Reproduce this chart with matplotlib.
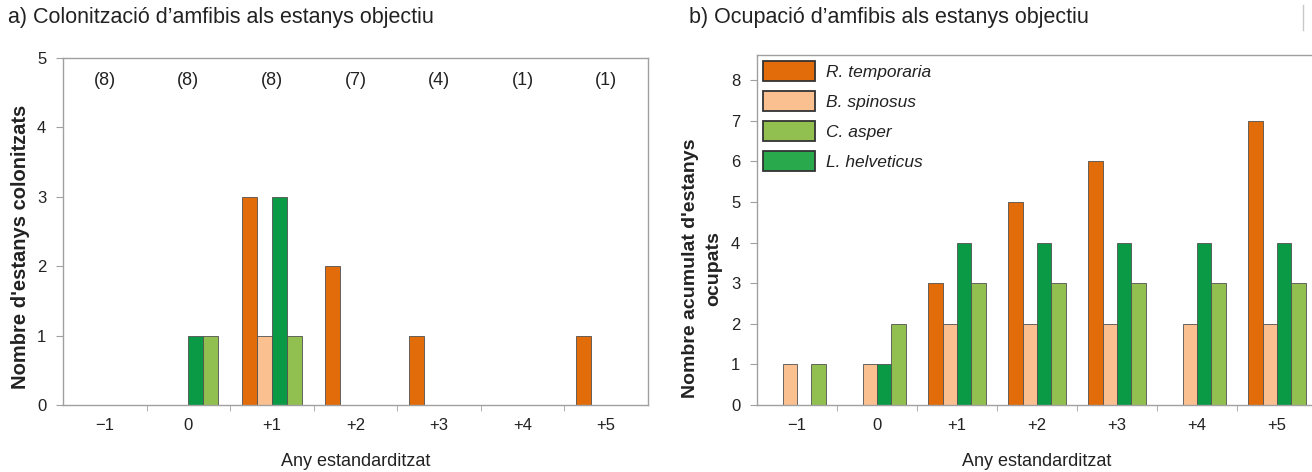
import numpy as np
import matplotlib
matplotlib.use("Agg")
import matplotlib.pyplot as plt
from matplotlib.lines import Line2D

plt.rcParams['font.family'] = ['Liberation Sans', 'DejaVu Sans']

years = ["\u22121", "0", "+1", "+2", "+3", "+4", "+5"]
n_ponds = ["(8)", "(8)", "(8)", "(7)", "(4)", "(1)", "(1)"]

species = ["R. temporaria", "B. spinosus", "L. helveticus", "C. asper"]
colors = ["#E36C0A", "#FAC090", "#0A9A46", "#92C050"]
legend_order = ["R. temporaria", "B. spinosus", "C. asper", "L. helveticus"]

# a) colonisation
col_rtemp = [0, 0, 3, 2, 1, 0, 1]
col_bspin = [0, 0, 1, 0, 0, 0, 0]
col_lhelv = [0, 1, 3, 0, 0, 0, 0]
col_casp = [0, 1, 1, 0, 0, 0, 0]

# b) cumulative occupation
occ_rtemp = [0, 0, 3, 5, 6, 0, 7]
occ_bspin = [1, 1, 2, 2, 2, 2, 2]
occ_lhelv = [0, 1, 4, 4, 4, 4, 4]
occ_casp = [1, 2, 3, 3, 3, 3, 3]

W, H = 1312, 472
fig = plt.figure(figsize=(W / 100, H / 100), dpi=100)

def ax_rect(x0, x1, ytop, ybot):
    return [x0 / W, 1 - ybot / H, (x1 - x0) / W, (ybot - ytop) / H]

axA = fig.add_axes(ax_rect(63, 648, 58, 405))
axB = fig.add_axes(ax_rect(757, 1317, 55, 405))

bw = 0.18
offsets = np.array([-1.5, -0.5, 0.5, 1.5]) * bw
x = np.arange(len(years))

spine_col = "#A0A0A0"
edge_col = "#505050"
txt_col = "#222222"

def style(ax, ymax, yticks):
    ax.set_xlim(-0.5, len(years) - 0.5)
    ax.set_ylim(0, ymax)
    ax.set_yticks(yticks)
    ax.set_xticks(x)
    ax.set_xticklabels(years, fontsize=12, color=txt_col)
    ax.tick_params(axis='x', which='major', length=0, pad=9)
    ax.set_xticks(np.arange(0.5, len(years) - 0.5, 1), minor=True)
    ax.tick_params(axis='x', which='minor', length=4, color=spine_col, direction='out')
    ax.tick_params(axis='y', length=5, color=spine_col, labelsize=12, labelcolor=txt_col, pad=7)
    for s in ax.spines.values():
        s.set_color(spine_col)
        s.set_linewidth(1.0)
    ax.set_xlabel("Any estandarditzat", fontsize=13, color=txt_col, labelpad=15)

def draw(ax, series):
    hs = {}
    for i, (name, vals) in enumerate(zip(species, series)):
        b = ax.bar(x + offsets[i], vals, width=bw, color=colors[i],
                   edgecolor=edge_col, linewidth=0.6, label=name)
        hs[name] = b
    return hs

draw(axA, [col_rtemp, col_bspin, col_lhelv, col_casp])
style(axA, 5, range(0, 6))
for xi, t in zip(x, n_ponds):
    axA.text(xi, 4.68, t, ha='center', va='center', fontsize=13, color=txt_col)
axA.set_ylabel("Nombre d'estanys colonitzats", fontsize=14.5, fontweight='bold', color=txt_col)
axA.yaxis.set_label_coords(-0.056, 0.455)

hs = draw(axB, [occ_rtemp, occ_bspin, occ_lhelv, occ_casp])
style(axB, 8.62, range(0, 9))
axB.spines['right'].set_visible(False)
axB.set_ylabel("Nombre acumulat d'estanys\nocupats", fontsize=14, fontweight='bold',
               color=txt_col, linespacing=1.45)
axB.yaxis.set_label_coords(-0.0625, 0.39)
leg = axB.legend([hs[n] for n in legend_order], legend_order, loc='upper left',
                 bbox_to_anchor=(6 / 560, 1 - 6 / 350), borderaxespad=0, borderpad=0,
                 frameon=False, handlelength=3.0, handleheight=1.4,
                 labelspacing=0.57, handletextpad=0.65,
                 prop={'style': 'italic', 'size': 12.5})
for h in leg.legend_handles:
    h.set_edgecolor("#333333")
    h.set_linewidth(1.3)
leg.legend_handles[3].set_facecolor("#2AA84C")
for t in leg.get_texts():
    t.set_color(txt_col)

fig.text(8 / W, 1 - 17 / H, "a) Colonitzaci\u00f3 d\u2019amfibis als estanys objectiu",
         fontsize=15.5, va='center', ha='left', color=txt_col)
fig.text(689 / W, 1 - 17 / H, "b) Ocupaci\u00f3 d\u2019amfibis als estanys objectiu",
         fontsize=15.5, va='center', ha='left', color=txt_col)
fig.add_artist(Line2D([1303 / W, 1303 / W], [1 - 5 / H, 1 - 30 / H], color="#C8C8C8", lw=1))

fig.savefig("out.png", dpi=100)
